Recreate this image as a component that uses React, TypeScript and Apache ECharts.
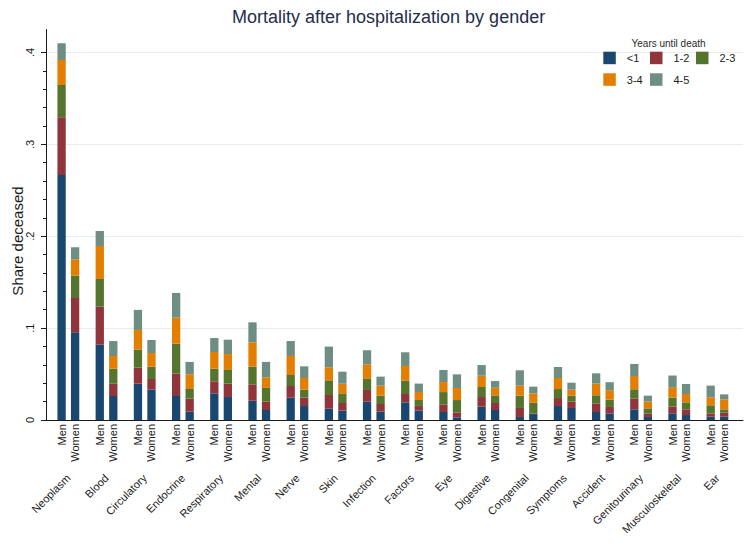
import React, { useEffect, useRef } from "react";
import * as echarts from "echarts";

const categories = [
  "Neoplasm", "Blood", "Circulatory", "Endocrine", "Respiratory", "Mental",
  "Nerve", "Skin", "Infection", "Factors", "Eye", "Digestive", "Congenital",
  "Symptoms", "Accident", "Genitourinary", "Musculoskeletal", "Ear",
];

const yearGroups = ["<1", "1-2", "2-3", "3-4", "4-5"];
const groupColors = ["#1a476f", "#90353b", "#55752f", "#e37e00", "#6e8e84"];

const menLt1 = [0.2667, 0.082, 0.0396, 0.0261, 0.029, 0.021, 0.0243, 0.0123, 0.02, 0.0192, 0.0087, 0.0145, 0.0033, 0.0152, 0.0087, 0.0116, 0.0073, 0.0036];
const men1to2 = [0.0628, 0.0414, 0.0174, 0.0243, 0.0131, 0.0178, 0.0127, 0.0149, 0.0127, 0.0091, 0.0083, 0.0105, 0.0098, 0.0087, 0.0091, 0.0116, 0.0073, 0.0033];
const men2to3 = [0.0352, 0.0301, 0.0196, 0.0327, 0.0138, 0.0192, 0.012, 0.016, 0.012, 0.0145, 0.0134, 0.0109, 0.0134, 0.0098, 0.0091, 0.0102, 0.0098, 0.0091];
const men3to4 = [0.0272, 0.0359, 0.0214, 0.0283, 0.0181, 0.0265, 0.0207, 0.0142, 0.016, 0.016, 0.0109, 0.0123, 0.0109, 0.012, 0.0127, 0.0145, 0.0113, 0.0087];
const men4to5 = [0.0181, 0.0163, 0.0218, 0.0269, 0.0152, 0.0218, 0.0163, 0.0225, 0.0152, 0.0149, 0.0131, 0.0116, 0.0167, 0.012, 0.0112, 0.0131, 0.0127, 0.0127];

const womenLt1 = [0.0954, 0.0261, 0.033, 0.0091, 0.025, 0.0109, 0.0152, 0.0102, 0.0091, 0.0102, 0.0029, 0.0109, 0.0065, 0.0131, 0.0069, 0.0033, 0.0054, 0.0036];
const women1to2 = [0.0374, 0.0134, 0.0116, 0.0142, 0.0145, 0.0091, 0.0091, 0.0083, 0.0083, 0.0051, 0.0054, 0.0076, 0.0007, 0.0069, 0.0073, 0.0036, 0.0062, 0.0047];
const women2to3 = [0.0243, 0.0163, 0.0134, 0.0105, 0.0149, 0.0149, 0.0087, 0.0105, 0.0091, 0.0065, 0.0134, 0.0083, 0.0116, 0.0065, 0.008, 0.0058, 0.0076, 0.0033];
const women3to4 = [0.0178, 0.0138, 0.0149, 0.016, 0.0174, 0.0116, 0.0127, 0.0105, 0.0109, 0.0087, 0.0131, 0.0083, 0.0102, 0.0065, 0.0102, 0.0073, 0.0091, 0.0109];
const women4to5 = [0.0131, 0.0163, 0.0142, 0.0134, 0.0156, 0.0167, 0.0127, 0.0131, 0.0098, 0.0091, 0.0149, 0.0073, 0.0073, 0.0076, 0.0087, 0.0065, 0.0109, 0.0054];

const menSeries = [menLt1, men1to2, men2to3, men3to4, men4to5];
const womenSeries = [womenLt1, women1to2, women2to3, women3to4, women4to5];

const yMajorTicks = [0, 0.1, 0.2, 0.3, 0.4];
const yMinorTicks = [
  0.02, 0.04, 0.06, 0.08, 0.12, 0.14, 0.16, 0.18, 0.22, 0.24, 0.26, 0.28,
  0.32, 0.34, 0.36, 0.38,
];

const FONT = "'Liberation Sans', Arial, Helvetica, sans-serif";
const Y_MAX = 0.425;

function fmtTick(v: number): string {
  if (Math.abs(v) < 1e-9) return "0";
  return v.toFixed(1).replace(/^0/, "");
}

export default function App() {
  const ref = useRef<HTMLDivElement>(null);

  useEffect(() => {
    if (!ref.current) return;
    const chart = echarts.init(ref.current, null, { renderer: "svg" });

    const makeStack = (arrs: number[][], stack: string, genderLabel: string) =>
      arrs.map((arr, i) => ({
        type: "bar",
        name: yearGroups[i],
        stack,
        xAxisIndex: 0,
        yAxisIndex: 0,
        barWidth: 8.3,
        barGap: "63%",
        data: arr,
        itemStyle: { color: groupColors[i] },
        emphasis: { disabled: true },
        label:
          i === 0
            ? {
                show: true,
                position: "bottom",
                distance: 4,
                rotate: 90,
                align: "right",
                verticalAlign: "middle",
                formatter: genderLabel,
                fontFamily: FONT,
                fontSize: 11,
                color: "#1a1a1a",
              }
            : { show: false },
      }));

    const legendPos = [
      [603.3, 51.7],
      [650, 51.7],
      [696, 51.7],
      [603.3, 73.3],
      [650, 73.3],
    ];

    const legends = yearGroups.map((name, i) => ({
      data: [name],
      left: legendPos[i][0],
      top: legendPos[i][1],
      padding: 0,
      itemGap: 0,
      itemWidth: 12.5,
      itemHeight: 12.5,
      icon: "rect",
      selectedMode: false,
      formatter: "{a|{name}}",
      textStyle: {
        rich: {
          a: {
            padding: [0, 0, 0, 6],
            fontFamily: FONT,
            fontSize: 11,
            color: "#222",
          },
        },
      },
    }));

    chart.setOption({
      animation: false,
      backgroundColor: "#ffffff",
      color: groupColors,
      title: [
        {
          text: "Mortality after hospitalization by gender",
          left: 232,
          top: 8,
          padding: 0,
          textStyle: {
            fontFamily: FONT,
            fontSize: 18,
            fontWeight: "normal",
            color: "#1f2d4e",
          },
        },
        {
          text: "Years until death",
          left: 631.5,
          top: 38.5,
          padding: 0,
          textStyle: {
            fontFamily: FONT,
            fontSize: 10,
            fontWeight: "normal",
            color: "#2a2a2a",
          },
        },
      ],
      legend: legends,
      grid: [
        { left: 49.26, right: 13.46, top: 29.5, bottom: 126, containLabel: false },
        { left: 46, right: 7, top: 29.5, bottom: 126, containLabel: false },
      ],
      xAxis: [
        {
          type: "category",
          gridIndex: 0,
          data: categories,
          axisLine: { show: false },
          axisTick: { show: false },
          splitLine: { show: false },
          axisLabel: {
            interval: 0,
            rotate: 45,
            margin: 56,
            fontFamily: FONT,
            fontSize: 11,
            color: "#1a1a1a",
          },
        },
        {
          type: "value",
          gridIndex: 1,
          min: 0,
          max: 1,
          axisLine: { show: true, lineStyle: { color: "#1a1a1a", width: 1 } },
          axisTick: { show: false },
          axisLabel: { show: false },
          splitLine: { show: false },
        },
      ],
      yAxis: [
        {
          type: "value",
          gridIndex: 0,
          min: 0,
          max: Y_MAX,
          show: false,
          splitLine: { show: false },
        },
        {
          type: "value",
          gridIndex: 1,
          position: "left",
          min: 0,
          max: Y_MAX,
          interval: 0.1,
          axisLine: { show: true, lineStyle: { color: "#1a1a1a", width: 1 } },
          axisTick: {
            show: true,
            length: 5,
            customValues: yMajorTicks,
            lineStyle: { color: "#1a1a1a" },
          },
          axisLabel: {
            customValues: yMajorTicks,
            formatter: (v: number) => fmtTick(v),
            rotate: 90,
            margin: 11,
            fontFamily: FONT,
            fontSize: 11,
            color: "#1a1a1a",
          },
          splitLine: {
            show: true,
            showMinLine: false,
            lineStyle: { color: "#e6ecef", width: 1 },
          },
        },
        {
          type: "value",
          gridIndex: 1,
          position: "left",
          offset: 0,
          min: 0,
          max: Y_MAX,
          axisLine: { show: false },
          axisTick: {
            show: true,
            length: 3,
            customValues: yMinorTicks,
            lineStyle: { color: "#1a1a1a" },
          },
          axisLabel: { show: false },
          splitLine: { show: false },
        },
      ],
      graphic: [
        {
          type: "text",
          x: 17,
          y: 241,
          rotation: Math.PI / 2,
          style: {
            text: "Share deceased",
            fontFamily: FONT,
            fontSize: 15,
            fill: "#1a1a1a",
            align: "center",
            verticalAlign: "middle",
          },
        },
      ],
      series: [
        ...makeStack(menSeries, "men", "Men"),
        ...makeStack(womenSeries, "women", "Women"),
      ],
    });

    return () => {
      chart.dispose();
    };
  }, []);

  return (
    <div
      ref={ref}
      style={{ position: "fixed", left: 0, top: 0, width: 750, height: 546, background: "#fff" }}
    />
  );
}
